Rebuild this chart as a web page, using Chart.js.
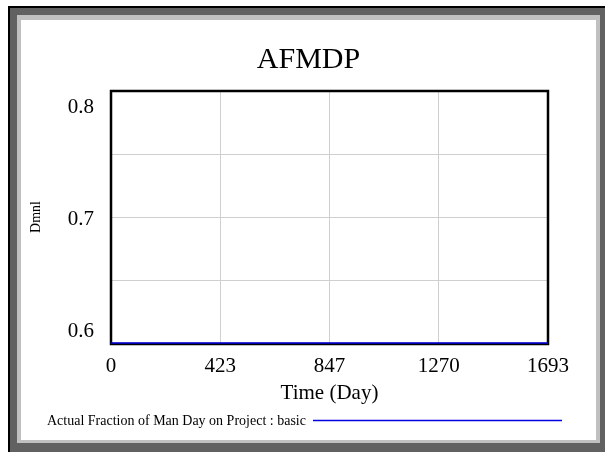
<!DOCTYPE html>
<html>
<head>
<meta charset="utf-8">
<script src="https://cdn.jsdelivr.net/npm/chart.js@4.4.1/dist/chart.umd.min.js"></script>
<style>
body{margin:0;background:#fff;width:605px;height:452px;overflow:hidden;position:relative}
#outer{position:absolute;left:8px;top:6px;width:597px;height:446px;background:#616161;border-top:2px solid #000;border-left:2px solid #000;box-sizing:border-box}
#inner{position:absolute;left:17px;top:15px;width:583px;height:428px;background:#c0c0c0}
#dataChart{position:absolute;left:21px;top:20px;background:#fff}
</style>
</head>
<body>
<div id="outer"></div><div id="inner"></div>
<canvas id="dataChart" width="575" height="420"></canvas>
<script>
//Data
const times = [0, 423, 847, 1270, 1693];
const afmdp = [0.5875, 0.5875, 0.5875, 0.5875, 0.5875];
const xTickValues = [0, 423.25, 846.5, 1269.75, 1693];
const xTickLabels = ['0', '423', '847', '1270', '1693'];
const yGridValues = [0.5875, 0.64375, 0.7, 0.75625, 0.8125];
const yTickLabels = ['0.6', '0.7', '0.8'];
const seriesLabel = 'Actual Fraction of Man Day on Project : basic';

const serif = '"Liberation Serif", "Times New Roman", serif';
const lineColor = 'rgb(0, 0, 225)';

//frame round the plot area
const framePlugin = {
    id: 'frame',
    beforeDatasetsDraw(chart) {
        const a = chart.chartArea;
        const ctx = chart.ctx;
        ctx.save();
        ctx.strokeStyle = '#000';
        ctx.lineWidth = 2.5;
        ctx.strokeRect(a.left, a.top, a.right - a.left, a.bottom - a.top + 1);
        ctx.restore();
    }
};

//Vensim style legend: label then a long line sample
const legendPlugin = {
    id: 'vensimLegend',
    afterDraw(chart) {
        const ctx = chart.ctx;
        const ds = chart.data.datasets[0];
        ctx.save();
        ctx.font = '14px ' + serif;
        ctx.fillStyle = '#000';
        ctx.textBaseline = 'middle';
        ctx.fillText(ds.label, 26, 401);
        ctx.strokeStyle = ds.borderColor;
        ctx.lineWidth = 1.5;
        ctx.beginPath();
        ctx.moveTo(292, 400.5);
        ctx.lineTo(541, 400.5);
        ctx.stroke();
        ctx.restore();
    }
};

const ctx = document.getElementById('dataChart').getContext('2d');

new Chart(ctx, {
    type: 'line',
    data: {
        datasets: [{
            label: seriesLabel,
            data: times.map((t, i) => ({x: t, y: afmdp[i]})),
            borderColor: lineColor,
            borderWidth: 1.5,
            pointRadius: 0,
            fill: false,
            tension: 0,
            clip: false
        }]
    },
    options: {
        responsive: false,
        animation: false,
        devicePixelRatio: 1,
        layout: {padding: 0},
        plugins: {
            legend: {display: false},
            tooltip: {enabled: false},
            title: {
                display: true,
                text: 'AFMDP',
                color: '#000',
                font: {family: serif, size: 30, weight: 'normal'},
                padding: {top: 22, bottom: 13}
            }
        },
        scales: {
            x: {
                type: 'linear',
                min: 0,
                max: 1693,
                afterBuildTicks: scale => { scale.ticks = xTickValues.map(v => ({value: v})); },
                afterFit: scale => { scale.height = 97; },
                ticks: {
                    autoSkip: false,
                    maxRotation: 0,
                    padding: 11,
                    color: '#000',
                    font: {family: serif, size: 21},
                    callback: (v, i) => xTickLabels[i]
                },
                grid: {color: '#cfcfcf', lineWidth: 1, drawTicks: false},
                border: {display: false},
                title: {
                    display: true,
                    text: 'Time (Day)',
                    color: '#000',
                    font: {family: serif, size: 21},
                    padding: {top: 0, bottom: 34}
                }
            },
            y: {
                type: 'linear',
                min: 0.5875,
                max: 0.8125,
                afterBuildTicks: scale => {
                    const vals = yGridValues.concat(yTickLabels.map(Number));
                    const uniq = [...new Set(vals)].sort((a, b) => a - b);
                    scale.ticks = uniq.map(v => ({value: v}));
                },
                afterFit: scale => { scale.width = 90; },
                ticks: {
                    autoSkip: false,
                    padding: 17,
                    labelOffset: 2,
                    color: '#000',
                    font: {family: serif, size: 21},
                    callback: v => yTickLabels.includes(String(v)) ? String(v) : ''
                },
                grid: {
                    drawTicks: false,
                    lineWidth: 1,
                    color: c => yGridValues.includes(c.tick.value) ? '#cfcfcf' : 'rgba(0,0,0,0)'
                },
                border: {display: false},
                title: {
                    display: true,
                    text: 'Dmnl',
                    color: '#000',
                    font: {family: serif, size: 14},
                    padding: {top: 6.6, bottom: 0}
                }
            },
            //empty right axis, keeps the plot's right margin without shifting the title
            yr: {
                position: 'right',
                display: true,
                afterFit: scale => { scale.width = 48; },
                grid: {display: false},
                ticks: {display: false},
                border: {display: false}
            }
        }
    },
    plugins: [framePlugin, legendPlugin]
});
</script>
</body>
</html>
